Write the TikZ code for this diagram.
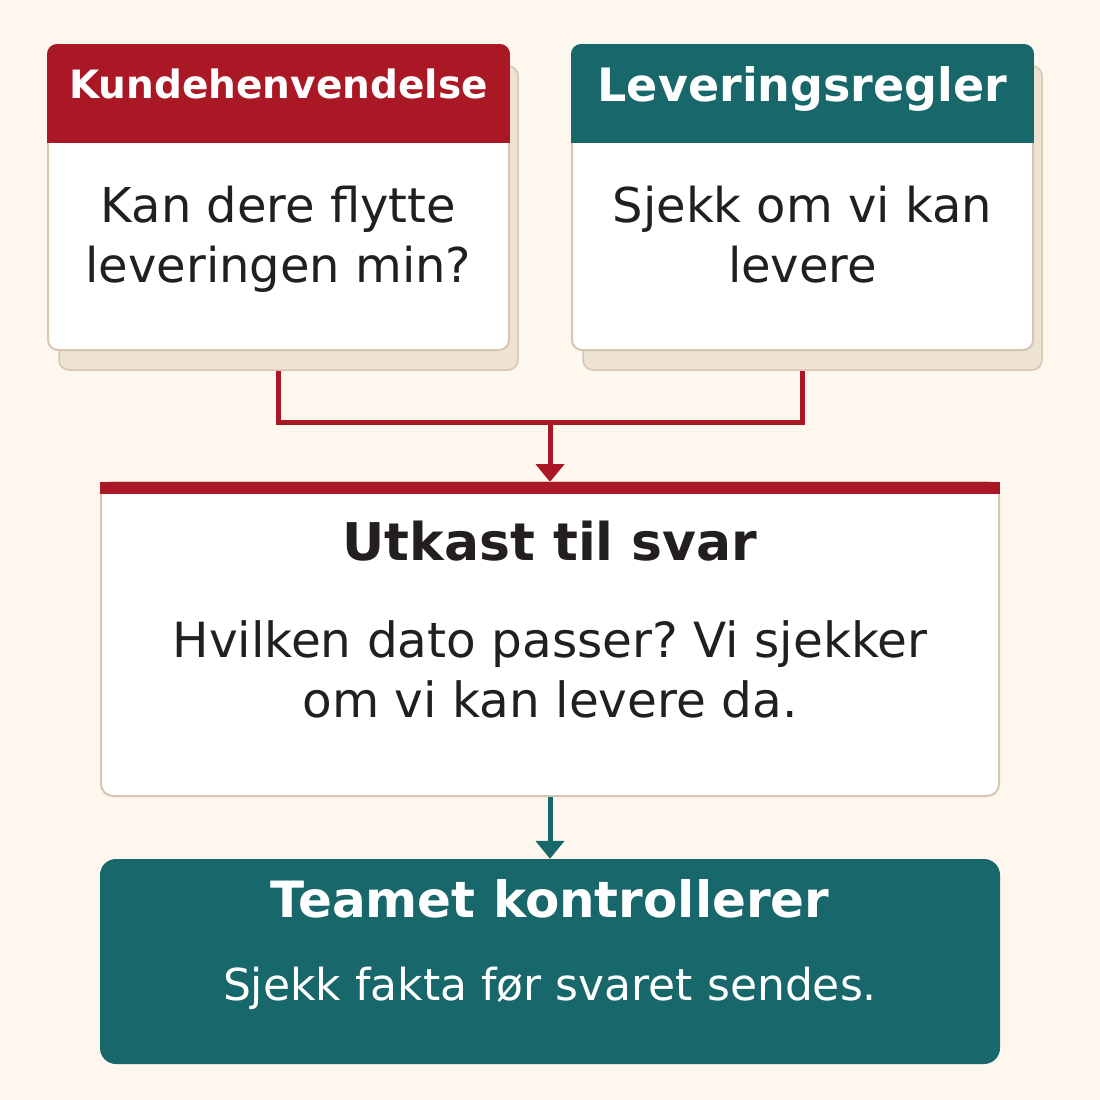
\documentclass[tikz,border=0pt]{standalone}
\usepackage{fontspec}
\setmainfont{DejaVu Sans}
\usetikzlibrary{arrows.meta}
\frenchspacing
\definecolor{bg}{HTML}{FEF7EE}
\definecolor{kred}{HTML}{AA1826}
\definecolor{kteal}{HTML}{17676B}
\definecolor{edge}{HTML}{D6C7B5}
\definecolor{shadefill}{HTML}{EEE2D3}
\definecolor{ink}{HTML}{231F1E}
\begin{document}
\begin{tikzpicture}[x=1pt,y=-1pt,
  card/.style={draw=edge,line width=2pt,fill=white,rounded corners=10pt,minimum width=461pt,minimum height=305pt,inner sep=0pt},
  shade/.style={draw=edge,line width=1.5pt,fill=shadefill,rounded corners=10pt},
  link/.style={draw=#1,line width=5pt,line join=miter,-{Triangle[length=18pt,width=28pt]}},
  head/.style={text=white,font=\bfseries\fontsize{#1}{#1}\selectfont,anchor=base},
  body/.style={text=ink,font=\fontsize{48}{60}\selectfont,align=center,anchor=base}]
\path[use as bounding box,fill=bg] (0,0) rectangle (1100,1100);
\coordinate (join) at (550,422);
\draw[link=kred,-] (278.5,360) |- (join) -| (802.5,360);
\draw[link=kred] (join) -- (550,482);
\draw[shade] (59,66) rectangle (518,370);
\draw[shade] (583,66) rectangle (1042,370);
\node[card] (kunde) at (278.5,197.5) {};
\node[card] (regler) at (802.5,197.5) {};
\begin{scope}
\clip[rounded corners=10pt] (47,44) rectangle (510,351);
\fill[kred] (47,44) rectangle (510,143);
\end{scope}
\begin{scope}
\clip[rounded corners=10pt] (571,44) rectangle (1034,351);
\fill[kteal] (571,44) rectangle (1034,143);
\end{scope}
\node[head=39] (kundetitle) at (278.5,98) {Kundehenvendelse};
\node[head=46] (reglertitle) at (802.5,101) {Leveringsregler};
\node[body] (kundetxt) at (278.5,282) {Kan dere flytte\\leveringen min?};
\node[body] (reglertxt) at (802.5,282) {Sjekk om vi kan\\levere};
\node[card,minimum width=898pt,minimum height=314pt,rounded corners=12pt] (utkast) at (550,639) {};
\fill[kred] (100,482) rectangle (1000,494);
\node[head=52,text=ink] (utkasttitle) at (550,560) {Utkast til svar};
\node[body,font=\fontsize{48.5}{60}\selectfont] (utkasttxt) at (550,717) {Hvilken dato passer? Vi sjekker\\om vi kan levere da.};
\node[fill=kteal,rounded corners=16pt,minimum width=900pt,minimum height=205pt,inner sep=0pt] (team) at (550,961.5) {};
\draw[link=kteal] (utkast.south) -- (team.north);
\node[head=50] (teamtitle) at (550,917) {Teamet kontrollerer};
\node[body,text=white,font=\fontsize{44}{54}\selectfont] (teamtxt) at (550,1000) {Sjekk fakta før svaret sendes.};
\end{tikzpicture}
\end{document}
